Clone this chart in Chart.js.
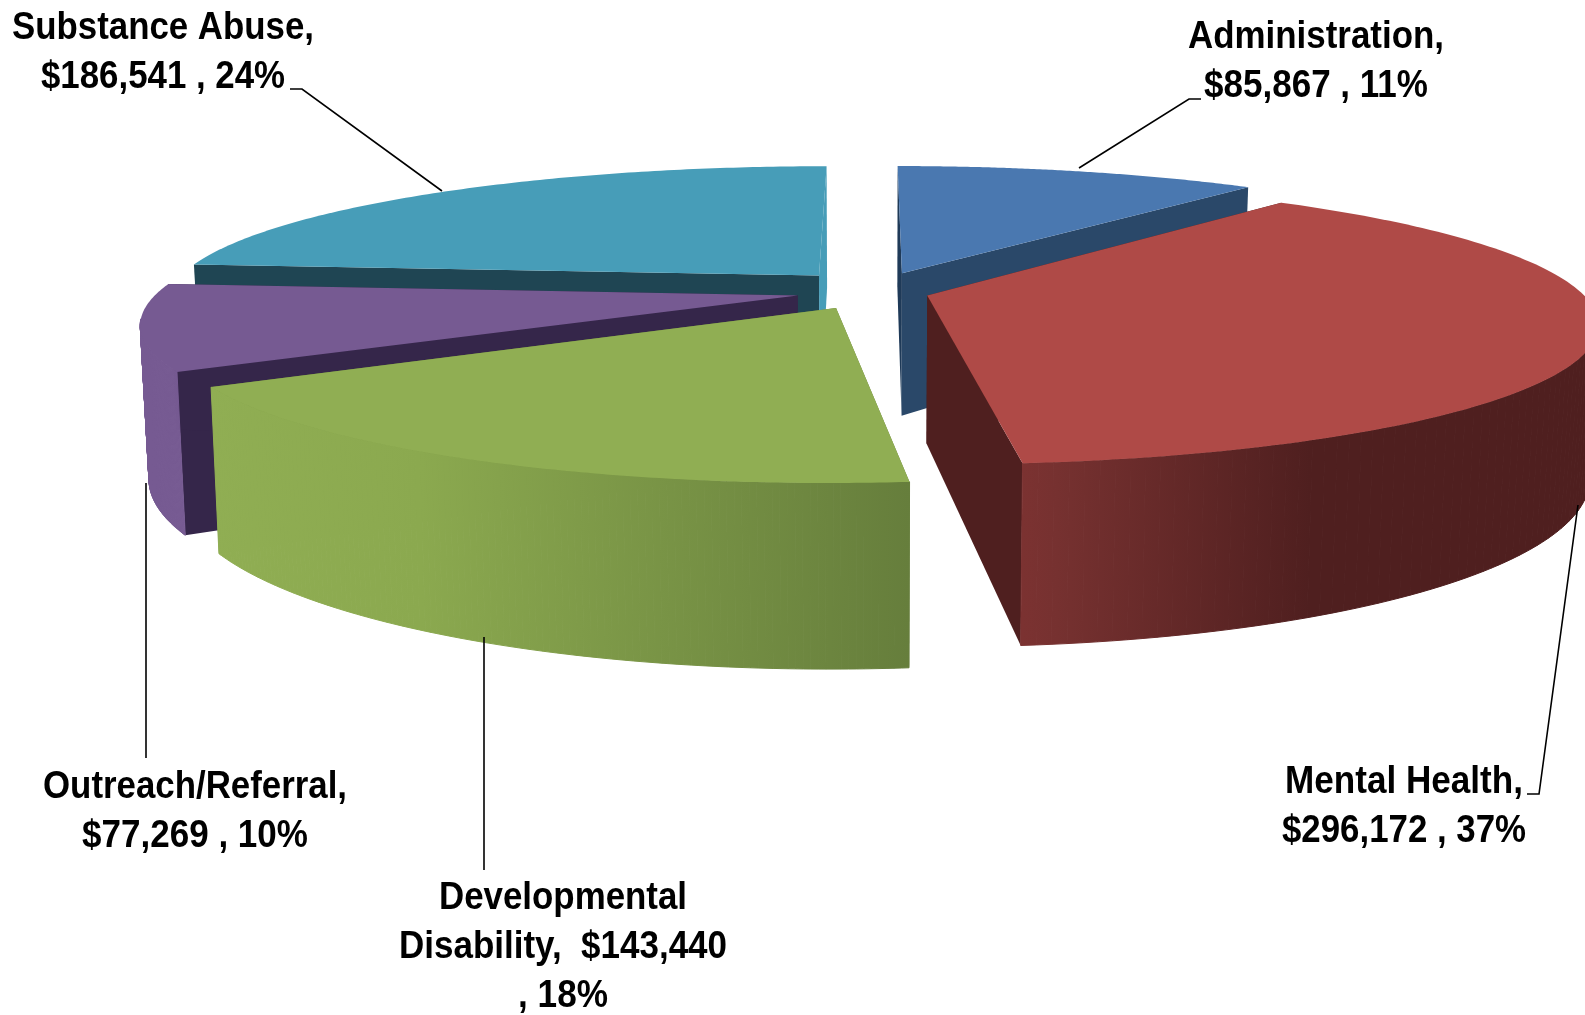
<!DOCTYPE html>
<html>
<head>
<meta charset="utf-8">
<title>Budget by program</title>
<script src="https://cdn.jsdelivr.net/npm/chart.js@4/dist/chart.umd.min.js"></script>
<style>
  html, body { margin: 0; background: #fff; overflow: hidden; }
  canvas { display: block; }
</style>
</head>
<body>
<canvas id="chart" width="1585" height="1015"></canvas>
<script>
const categories = ["Administration", "Mental Health", "Developmental Disability", "Outreach/Referral", "Substance Abuse"];
const amounts = [85867, 296172, 143440, 77269, 186541];
const percents = [11, 37, 18, 10, 24];

const topColors = ["#4a78b0", "#af4a47", "#90ae53", "#765a92", "#479db8"];
const startFaceColors = ["#1f3a58", "#4f1f1f", "#667e3c", "#35264a", "#1f4553"];
const endFaceColors = ["#2a4869", "#4f1f1f", "#667e3c", "#35264a", "#479db8"];
const rimLeft = ["#2a4869", "#7b3231", "#90ae53", "#765a92", "#479db8"];
const rimRight = ["#2a4869", "#4f1f1f", "#667e3c", "#765a92", "#479db8"];
const explode = [36, 27, 27, 30, 31];
const rimScale = [1, 1, 0.975, 0.98, 1];
const nudgeX = [6, -3, -2, 0, 0];
const nudgeY = [5, -1, 0, 0, 0];
const drawOrder = [4, 0, 3, 2, 1];

// how the flat pie is tipped over: half widths, thickness, perspective
const view = { rx: 652, ry: 135, depth: 147, persp: 0.187, explodeY: 1.4, taper: 0.012 };

const labelLines = [
  ["Administration,", "$85,867 , 11%"],
  ["Mental Health,", "$296,172 , 37%"],
  ["Developmental", "Disability,  $143,440", ", 18%"],
  ["Outreach/Referral,", "$77,269 , 10%"],
  ["Substance Abuse,", "$186,541 , 24%"]
];
const labelPos = [
  { x: 1316, y: 48, w: [256, 224] },
  { x: 1404, y: 793, w: [238, 244] },
  { x: 563, y: 909, w: [248, 328, 90] },
  { x: 195, y: 798, w: [304, 226] },
  { x: 163, y: 39, w: [302, 244] }
];
const leaders = [
  [[1201, 99], [1189, 99], [1079, 168]],
  [[1527, 794], [1539, 794], [1578, 505]],
  [[484, 637], [484, 870]],
  [[146, 483], [146, 758]],
  [[290, 89], [302, 89], [442, 191]]
];

// arc angle is canvas style, 0 = east, so turn it to 0 = north
function project(arc, i, lift, angle, rim) {
  const mid = (arc.startAngle + arc.endAngle) / 2;
  const e = (arc.options.offset || 0) / arc.outerRadius;
  const u = e * Math.cos(mid) + rim * rimScale[i] * Math.cos(angle);
  const v = -e * view.explodeY * Math.sin(mid) - rim * Math.sin(angle);
  const w = 1 + view.persp * v;
  const x = view.rx * u / w;
  return {
    x: arc.x + nudgeX[i] + x * (1 - view.taper * lift),
    y: arc.y + nudgeY[i] - view.ry * v / w + lift * view.depth / w
  };
}

function poly(ctx, pts, fill) {
  ctx.beginPath();
  pts.forEach((p, i) => (i ? ctx.lineTo(p.x, p.y) : ctx.moveTo(p.x, p.y)));
  ctx.closePath();
  ctx.fillStyle = fill;
  ctx.fill();
}

function rimAngles(arc) {
  const out = [];
  const n = 120;
  for (let k = 0; k <= n; k++) {
    out.push(arc.startAngle + (arc.endAngle - arc.startAngle) * k / n);
  }
  return out;
}

const tiltedPie = {
  id: "tiltedPie",
  beforeDatasetsDraw(chart) {
    const ctx = chart.ctx;
    const arcs = chart.getDatasetMeta(0).data;
    drawOrder.forEach((i) => {
      const arc = arcs[i];
      const angles = rimAngles(arc);
      const top = angles.map((a) => project(arc, i, 0, a, 1));
      const bottom = angles.map((a) => project(arc, i, 1, a, 1));
      const a0 = project(arc, i, 0, 0, 0);
      const a1 = project(arc, i, 1, 0, 0);

      poly(ctx, [a0, top[0], bottom[0], a1], startFaceColors[i]);
      poly(ctx, [a0, top[top.length - 1], bottom[bottom.length - 1], a1], endFaceColors[i]);

      const xs = top.map((p) => p.x);
      const g = ctx.createLinearGradient(Math.min(...xs), 0, Math.max(...xs), 0);
      g.addColorStop(0, rimLeft[i]);
      g.addColorStop(1, rimRight[i]);
      if (i === 1) {
        g.addColorStop(0.06, "#763130");
        g.addColorStop(0.5, "#4f1f1f");
      }
      if (i === 2) {
        g.addColorStop(0.3, "#8ba94f");
      }
      // one quad per step, only the part of the rim that faces the viewer
      ctx.strokeStyle = g;
      ctx.lineWidth = 1;
      for (let k = 0; k < top.length - 1; k++) {
        if (Math.sin(angles[k]) < view.persp - 0.02 && Math.sin(angles[k + 1]) < view.persp - 0.02) continue;
        poly(ctx, [top[k], top[k + 1], bottom[k + 1], bottom[k]], g);
        ctx.stroke();
      }

      poly(ctx, [a0].concat(top), topColors[i]);
    });
    return false; // the library's flat arcs stay undrawn
  },
  afterDraw(chart) {
    const ctx = chart.ctx;
    ctx.strokeStyle = "#000";
    ctx.lineWidth = 1.6;
    leaders.forEach((line) => {
      ctx.beginPath();
      line.forEach((p, i) => (i ? ctx.lineTo(p[0], p[1]) : ctx.moveTo(p[0], p[1])));
      ctx.stroke();
    });
    ctx.fillStyle = "#000";
    ctx.textAlign = "center";
    ctx.textBaseline = "alphabetic";
    ctx.font = 'bold 38px "Liberation Sans"';
    labelLines.forEach((lines, i) => {
      lines.forEach((text, j) => {
        ctx.fillText(text, labelPos[i].x, labelPos[i].y + j * 49, labelPos[i].w[j]);
      });
    });
  }
};

new Chart(document.getElementById("chart"), {
  type: "pie",
  data: {
    labels: categories,
    datasets: [{
      data: amounts,
      backgroundColor: topColors,
      offset: explode,
      borderWidth: 0
    }]
  },
  options: {
    responsive: false,
    animation: false,
    layout: { padding: { left: 151, bottom: 433 } },
    plugins: {
      legend: { display: false },
      tooltip: {
        callbacks: {
          label: (c) => "$" + amounts[c.dataIndex].toLocaleString("en-US") + " , " + percents[c.dataIndex] + "%"
        }
      }
    }
  },
  plugins: [tiltedPie]
});
</script>
</body>
</html>
